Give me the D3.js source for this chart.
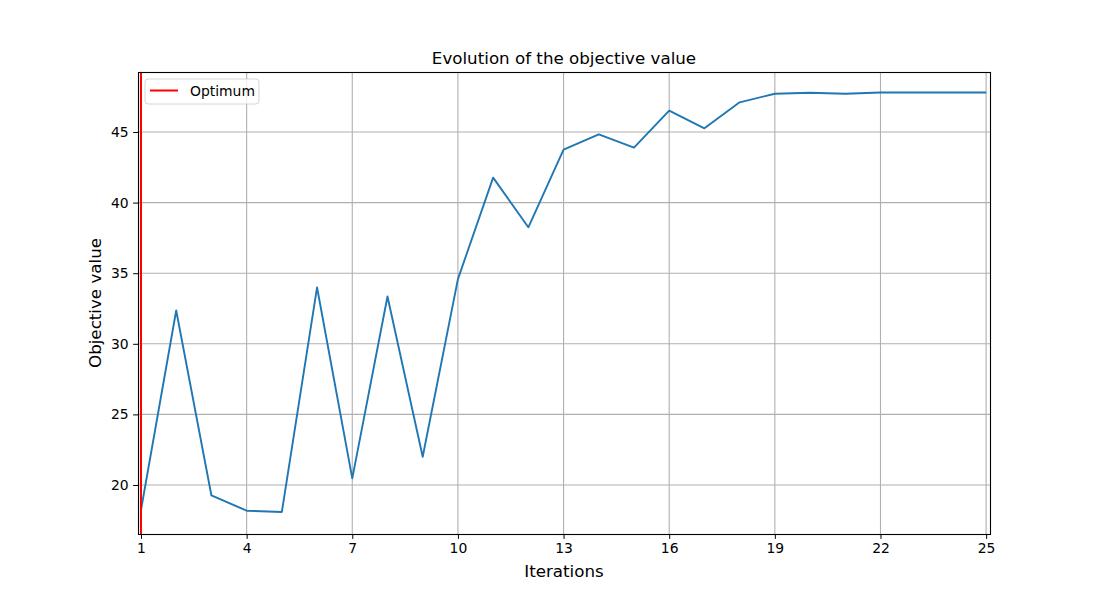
<!DOCTYPE html>
<html>
<head>
<meta charset="utf-8">
<script src="https://cdn.jsdelivr.net/npm/d3@7"></script>
<style>
  body { margin: 0; background: #fff; }
  text { font-family: "DejaVu Sans", sans-serif; fill: #000; }
</style>
</head>
<body>
<div id="chart"></div>
<script>
// iteration numbers and objective values
const iterations = d3.range(1, 26);
const objective = [18.23, 32.36, 19.26, 18.18, 18.09, 33.99, 20.47, 33.35, 22.0, 34.58,
  41.77, 38.25, 43.75, 44.84, 43.9, 46.51, 45.26, 47.1, 47.71, 47.78,
  47.71, 47.8, 47.8, 47.8, 47.8];
const optimumX = 1;
const xTicks = [1, 4, 7, 10, 13, 16, 19, 22, 25];
const yTicks = [20, 25, 30, 35, 40, 45];

const width = 1100;
const height = 600;
const margin = { top: 72, right: 110, bottom: 66, left: 138 };

const x = d3.scaleLinear().domain([0.915, 25.11]).range([margin.left, width - margin.right]);
const y = d3.scaleLinear().domain([16.53, 49.25]).range([height - margin.bottom, margin.top]);

const svg = d3.select("#chart")
  .append("svg")
    .attr("width", width)
    .attr("height", height)
    .attr("viewBox", [0, 0, width, height]);

// grid
svg.append("g")
  .selectAll("line")
  .data(xTicks)
  .join("line")
    .attr("x1", d => x(d)).attr("x2", d => x(d))
    .attr("y1", margin.top).attr("y2", height - margin.bottom)
    .attr("stroke", "#b0b0b0").attr("stroke-width", 1.1);

svg.append("g")
  .selectAll("line")
  .data(yTicks)
  .join("line")
    .attr("x1", margin.left).attr("x2", width - margin.right)
    .attr("y1", d => y(d)).attr("y2", d => y(d))
    .attr("stroke", "#b0b0b0").attr("stroke-width", 1.1);

// axes
const xAxis = svg.append("g")
  .attr("transform", `translate(0,${height - margin.bottom})`)
  .call(d3.axisBottom(x).tickValues(xTicks).tickSize(4.9).tickPadding(4.5));

const yAxis = svg.append("g")
  .attr("transform", `translate(${margin.left},0)`)
  .call(d3.axisLeft(y).tickValues(yTicks).tickSize(4.9).tickPadding(4.5));

[xAxis, yAxis].forEach(a => {
  a.select(".domain").remove();
  a.selectAll("text").style("font-size", "13.9px").style("font-family", "DejaVu Sans, sans-serif");
  a.selectAll("line").attr("stroke", "#000").attr("stroke-width", 1);
});

// data line
const line = d3.line()
  .x((d, i) => x(iterations[i]))
  .y(d => y(d));

svg.append("path")
  .datum(objective)
  .attr("fill", "none")
  .attr("stroke", "#1f77b4")
  .attr("stroke-width", 1.9)
  .attr("stroke-linejoin", "round")
  .attr("d", line);

// optimum
svg.append("line")
  .attr("x1", x(optimumX)).attr("x2", x(optimumX))
  .attr("y1", margin.top).attr("y2", height - margin.bottom)
  .attr("stroke", "#ff0000").attr("stroke-width", 2);

// frame
svg.append("rect")
  .attr("x", margin.left + 0.5).attr("y", margin.top + 0.5)
  .attr("width", width - margin.right - margin.left)
  .attr("height", height - margin.bottom - margin.top)
  .attr("fill", "none").attr("stroke", "#000").attr("stroke-width", 1.1);

// legend
const lg = svg.append("g").attr("transform", `translate(${margin.left + 7},${margin.top + 7})`);
lg.append("rect")
  .attr("width", 114).attr("height", 25).attr("rx", 3)
  .attr("fill", "#fff").attr("fill-opacity", 0.8)
  .attr("stroke", "#ccc").attr("stroke-width", 0.8);
lg.append("line")
  .attr("x1", 5).attr("x2", 33).attr("y1", 11.5).attr("y2", 11.5)
  .attr("stroke", "#ff0000").attr("stroke-width", 2);
lg.append("text")
  .attr("x", 45).attr("y", 16.5)
  .style("font-size", "13.9px")
  .text("Optimum");

// titles
svg.append("text")
  .attr("x", (margin.left + width - margin.right) / 2)
  .attr("y", 64)
  .attr("text-anchor", "middle")
  .style("font-size", "16.7px")
  .text("Evolution of the objective value");

svg.append("text")
  .attr("x", (margin.left + width - margin.right) / 2)
  .attr("y", 577)
  .attr("text-anchor", "middle")
  .style("font-size", "16.7px")
  .text("Iterations");

svg.append("text")
  .attr("transform", `translate(101,${(margin.top + height - margin.bottom) / 2}) rotate(-90)`)
  .attr("text-anchor", "middle")
  .style("font-size", "16.7px")
  .text("Objective value");
</script>
</body>
</html>
